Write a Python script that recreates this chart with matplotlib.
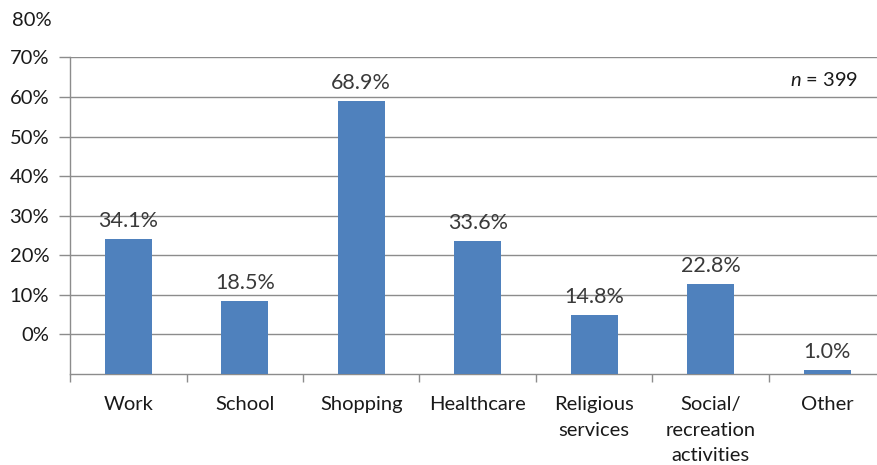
import numpy as np
import matplotlib
matplotlib.use("Agg")
import matplotlib.pyplot as plt
from matplotlib.transforms import ScaledTranslation

plt.rcParams.update({
    "font.family": ["Lato", "DejaVu Sans"],
    "mathtext.fontset": "custom",
    "mathtext.it": "Lato:italic",
    "mathtext.rm": "Lato",
})

categories = ["Work", "School", "Shopping", "Healthcare", "Religious\nservices",
              "Social/\nrecreation\nactivities", "Other"]
values = [34.1, 18.5, 68.9, 33.6, 14.8, 22.8, 1.0]
value_labels = ["34.1%", "18.5%", "68.9%", "33.6%", "14.8%", "22.8%", "1.0%"]
# tick labels as printed in the source (shifted one step from the gridlines)
ytick_pos = [10, 20, 30, 40, 50, 60, 70, 80, 90]
ytick_labels = ["0%", "10%", "20%", "30%", "40%", "50%", "60%", "70%", "80%"]

BAR = "#4F81BD"
GRID = "#8C8C8C"
TXT = "#1a1a1a"

fig = plt.figure(figsize=(8.78, 4.65), dpi=100)
ax = fig.add_axes([70 / 878, 1 - 374 / 465, 815.5 / 878, (374 - 57.5) / 465])

x = np.arange(len(categories))
ax.bar(x, values, width=0.4, color=BAR, zorder=3)
ax.set_xlim(-0.5, len(categories) - 0.5)
ax.set_ylim(0, 80)

for xi, v, lab in zip(x, values, value_labels):
    ax.annotate(lab, (xi, v), xytext=(0, 13), textcoords="offset points",
                ha="center", va="center", fontsize=15.5, color="#3a3a3a",
                zorder=2)

# y axis: gridlines every 10, labels as in the original
in_view = [p for p in ytick_pos if p <= 80]
ax.set_yticks(in_view)
ax.set_yticklabels(ytick_labels[:len(in_view)])
shift = ScaledTranslation(0, -3 / 100, fig.dpi_scale_trans)
for t in ax.get_yticklabels():
    t.set_transform(t.get_transform() + shift)
for p, lab in zip(ytick_pos[len(in_view):], ytick_labels[len(in_view):]):
    ax.annotate(lab, (0, p), xycoords=ax.get_yaxis_transform(),
                xytext=(-13, -2), textcoords="offset points", ha="right",
                va="center", fontsize=14.5, color=TXT, annotation_clip=False)
ax.yaxis.grid(True, color=GRID, linewidth=1.0, zorder=0)
ax.tick_params(axis="y", length=8, width=1, color=GRID, labelsize=14.5,
               labelcolor=TXT, pad=7)

# x axis: ticks at category boundaries, labels centred
ax.set_xticks(np.arange(len(categories) + 1) - 0.5)
ax.set_xticklabels([])
ax.set_xticks(x, minor=True)
ax.set_xticklabels(categories, minor=True, fontsize=14.5, color=TXT,
                   linespacing=1.6, va="top")
ax.tick_params(axis="x", which="major", length=6, width=1, color=GRID)
ax.tick_params(axis="x", which="minor", length=0, pad=16)

for s in ["top", "right"]:
    ax.spines[s].set_visible(False)
for s in ["left", "bottom"]:
    ax.spines[s].set_color(GRID)
    ax.spines[s].set_linewidth(1.0)

fig.text(858 / 878, 1 - 80 / 465, r"$n$ = 399", ha="right", va="center",
         fontsize=14.5, color=TXT)

fig.savefig("out.png", dpi=100)
